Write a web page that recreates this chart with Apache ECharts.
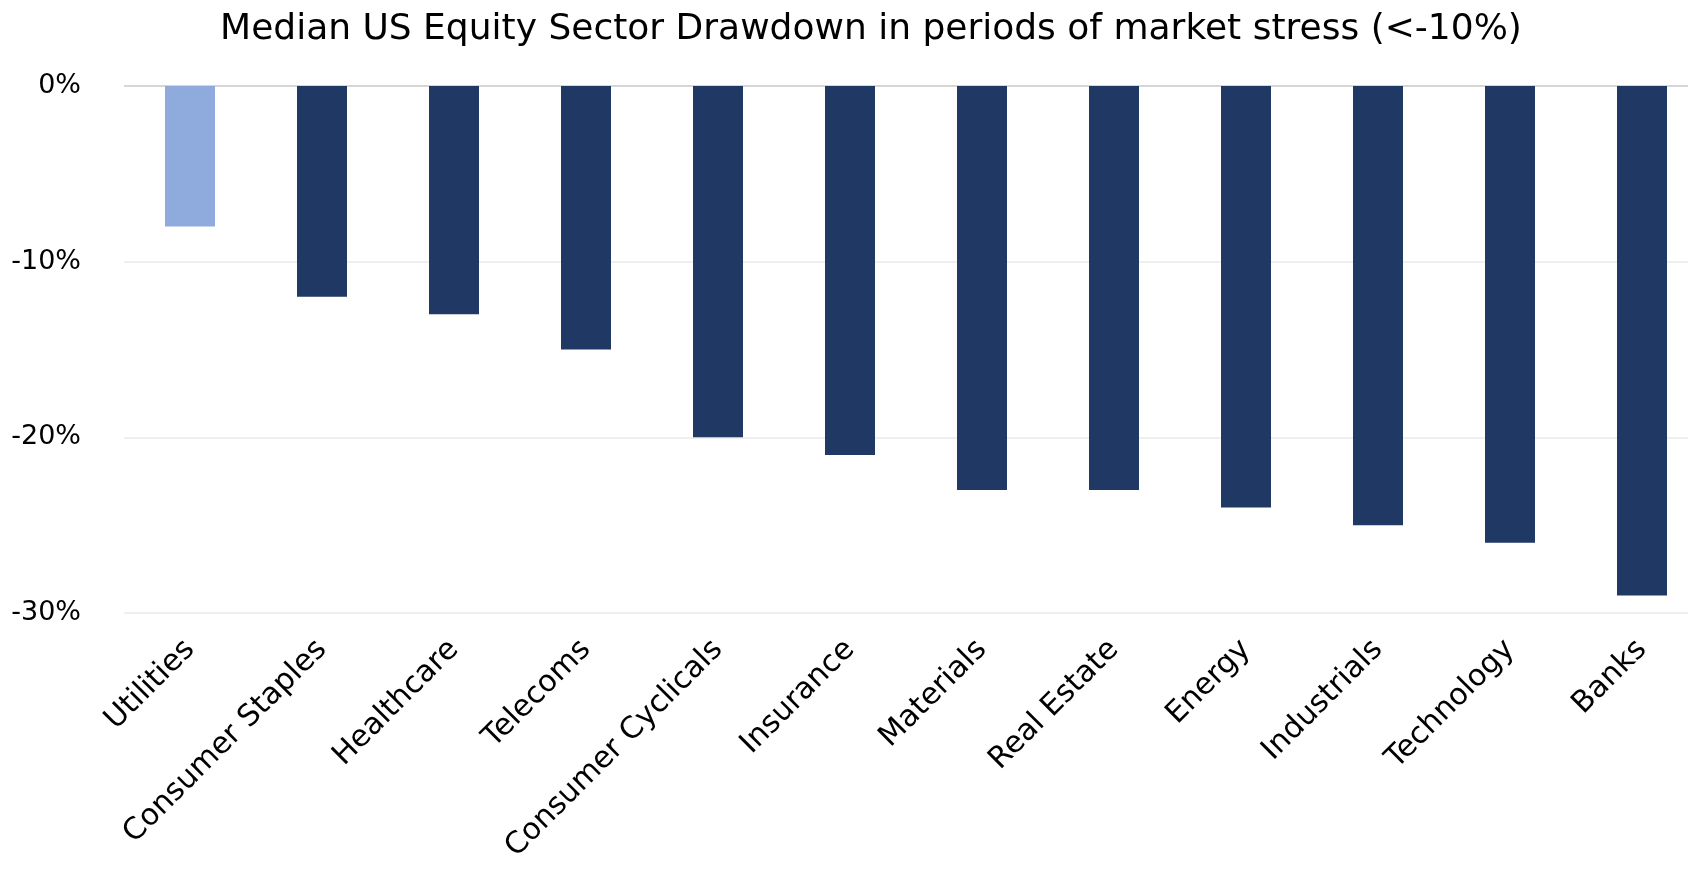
<!DOCTYPE html>
<html>
<head>
<meta charset="utf-8">
<script src="https://cdn.jsdelivr.net/npm/echarts@6/dist/echarts.min.js"></script>
<style>
  html, body { margin: 0; padding: 0; background: #fff; }
  #chart { width: 1688px; height: 873px; }
</style>
</head>
<body>
<div id="chart"></div>
<script>
// sectors, ordered as in the chart
var sectors = ['Utilities', 'Consumer Staples', 'Healthcare', 'Telecoms', 'Consumer Cyclicals',
  'Insurance', 'Materials', 'Real Estate', 'Energy', 'Industrials', 'Technology', 'Banks'];
// median drawdown, %
var drawdown = [-8, -12, -13, -15, -20, -21, -23, -23, -24, -25, -26, -29];
var highlighted = ['Utilities'];

var myChart = echarts.init(document.getElementById('chart'));

var font = 'DejaVu Sans';

var option = {
  animation: false,
  title: {
    text: 'Median US Equity Sector Drawdown in periods of market stress (<-10%)',
    left: 866,
    textAlign: 'center',
    top: 7,
    textStyle: { fontFamily: font, fontSize: 36, fontWeight: 'normal', color: '#000' }
  },
  grid: { left: 124, top: 86, width: 1584, height: 527, outerBoundsMode: 'none' },
  xAxis: {
    type: 'category',
    data: sectors,
    axisLine: { show: false },
    axisTick: { show: false },
    axisLabel: {
      rotate: 45,
      interval: 0,
      margin: 32,
      fontFamily: font,
      fontSize: 30,
      color: '#000'
    }
  },
  yAxis: {
    type: 'value',
    min: -30,
    max: 0,
    interval: 10,
    axisLabel: {
      formatter: '{value}%',
      margin: 43,
      fontFamily: font,
      fontSize: 27,
      color: '#000'
    },
    splitLine: {
      lineStyle: { color: ['#efefef', '#efefef', '#efefef', '#d6d6d6'], width: 2 }
    }
  },
  series: [{
    type: 'bar',
    barWidth: 50,
    data: drawdown.map(function (v, i) {
      var light = highlighted.indexOf(sectors[i]) >= 0;
      return { value: v, itemStyle: { color: light ? '#8faadc' : '#203864' } };
    })
  }]
};

myChart.setOption(option);
</script>
</body>
</html>
